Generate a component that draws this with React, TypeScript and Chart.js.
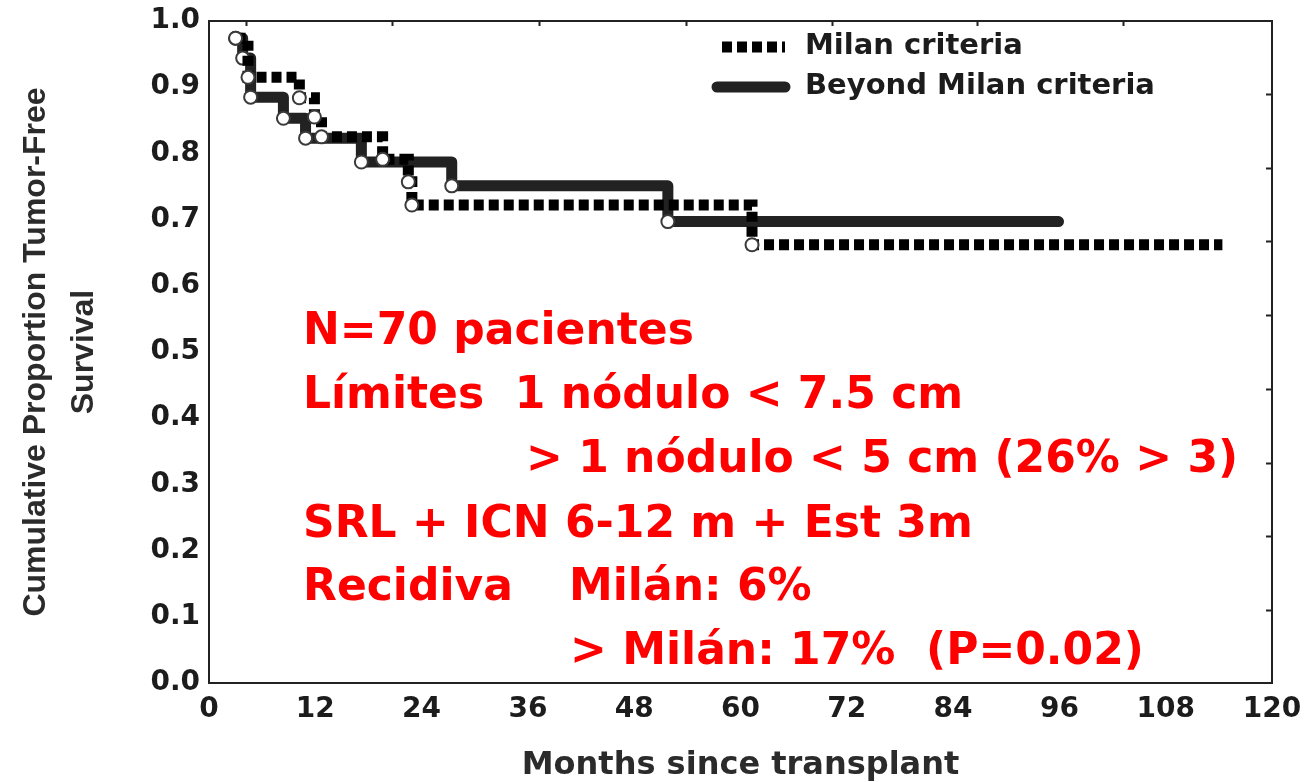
import React, { useEffect, useRef } from "react";
import { Chart, registerables } from "chart.js";

Chart.register(...registerables);

// ---- data ----
const milanMonths = [3.0, 4.4, 10.2, 11.9, 12.7, 19.6, 22.5, 22.9, 61.3, 114.4];
const milanSurvival = [0.974, 0.915, 0.884, 0.855, 0.825, 0.791, 0.757, 0.722, 0.662, 0.662];

const beyondMonths = [3.0, 3.8, 4.7, 8.4, 10.9, 17.2, 27.4, 51.8, 95.9];
const beyondSurvival = [0.974, 0.944, 0.885, 0.853, 0.823, 0.787, 0.751, 0.697, 0.697];

const seriesLabels = ["Milan criteria", "Beyond Milan criteria"];

const xTickStep = 12;
const yTickStep = 0.1;
const topTickMonths = [4.2, 20.7, 37.2, 53.8, 70.3, 86.7, 103.2];
const rightTickValues = [0.111, 0.222, 0.333, 0.444, 0.556, 0.667, 0.778, 0.889];

const xTitle = "Months since transplant";
const yTitle = ["Cumulative Proportion Tumor-Free", "Survival"];

const noteLines = [
  "N=70 pacientes",
  "Límites  1 nódulo < 7.5 cm",
  "> 1 nódulo < 5 cm (26% > 3)",
  "SRL + ICN 6-12 m + Est 3m",
  "Recidiva",
  "Milán: 6%",
  "> Milán: 17%  (P=0.02)",
];

const TICK_FONT = { family: "'DejaVu Sans'", size: 28, weight: "bold" as const };
const INK = "#1c1c1c";

const decorPlugin = {
  id: "decor",
  afterDatasetsDraw(chart: any) {
    const { ctx, chartArea: a, scales } = chart;
    const x = scales.x;
    const y = scales.y;
    ctx.save();
    // frame
    ctx.strokeStyle = "#222";
    ctx.lineWidth = 2;
    ctx.setLineDash([]);
    ctx.strokeRect(a.left, a.top, a.right - a.left, a.bottom - a.top);
    // inside ticks: top and right
    ctx.lineWidth = 2;
    ctx.beginPath();
    topTickMonths.forEach((m) => {
      const px = Math.round(x.getPixelForValue(m)) + 0.5;
      ctx.moveTo(px, a.top);
      ctx.lineTo(px, a.top + 5);
    });
    rightTickValues.forEach((v) => {
      const py = Math.round(y.getPixelForValue(v)) + 0.5;
      ctx.moveTo(a.right, py);
      ctx.lineTo(a.right - 6, py);
    });
    ctx.stroke();

    // legend inside plot (top-right)
    const ds = chart.data.datasets;
    const legendRows = [
      { y: a.top + 26, x0: a.left + 513, x1: a.left + 576 },
      { y: a.top + 66, x0: a.left + 508, x1: a.left + 576 },
    ];
    legendRows.forEach((row, i) => {
      const d = ds[i];
      ctx.strokeStyle = d.borderColor;
      ctx.lineWidth = d.borderWidth;
      ctx.lineCap = d.borderCapStyle;
      ctx.setLineDash(d.borderDash || []);
      ctx.beginPath();
      ctx.moveTo(row.x0, row.y);
      ctx.lineTo(row.x1, row.y);
      ctx.stroke();
      ctx.setLineDash([]);
      ctx.fillStyle = INK;
      ctx.font = "bold 29px 'DejaVu Sans'";
      ctx.textAlign = "left";
      ctx.textBaseline = "middle";
      ctx.fillText(d.label, a.left + 596, row.y - 1);
    });

    // red annotation text
    ctx.fillStyle = "#ff0000";
    ctx.font = "bold 44px 'DejaVu Sans'";
    ctx.textAlign = "left";
    ctx.textBaseline = "alphabetic";
    const notePos = [
      [94, 322.5],
      [94, 386.7],
      [317, 451],
      [94, 515.5],
      [94, 579],
      [360, 579],
      [361, 643],
    ];
    noteLines.forEach((t, i) => {
      ctx.fillText(t, a.left + notePos[i][0], a.top + notePos[i][1]);
    });
    ctx.restore();
  },
};

export default function App() {
  const ref = useRef<HTMLCanvasElement>(null);

  useEffect(() => {
    const canvas = ref.current;
    if (!canvas) return;
    const chart = new Chart(canvas, {
      type: "line",
      data: {
        datasets: [
          {
            label: seriesLabels[0],
            data: milanMonths.map((m, i) => ({ x: m, y: milanSurvival[i] })),
            stepped: true,
            borderColor: "#000000",
            borderWidth: 11,
            borderDash: [10, 5],
            borderCapStyle: "butt",
            borderJoinStyle: "miter",
            pointRadius: milanMonths.map((_, i) => (i === milanMonths.length - 1 ? 0 : 6.5)),
            pointBackgroundColor: "#ffffff",
            pointBorderColor: "#3a3a3a",
            pointBorderWidth: 2,
            fill: false,
          },
          {
            label: seriesLabels[1],
            data: beyondMonths.map((m, i) => ({ x: m, y: beyondSurvival[i] })),
            stepped: true,
            borderColor: "#222222",
            borderWidth: 11,
            borderCapStyle: "round",
            borderJoinStyle: "round",
            pointRadius: beyondMonths.map((_, i) => (i === beyondMonths.length - 1 ? 0 : 6.5)),
            pointBackgroundColor: "#ffffff",
            pointBorderColor: "#3a3a3a",
            pointBorderWidth: 2,
            fill: false,
          },
        ],
      },
      options: {
        responsive: false,
        animation: false,
        devicePixelRatio: 1,
        layout: { padding: { top: 21, right: 33, left: 0, bottom: 0 } },
        plugins: {
          legend: { display: false },
          tooltip: { enabled: false },
        },
        scales: {
          x: {
            type: "linear",
            min: 0,
            max: 120,
            afterFit: (s: any) => {
              s.height = 99;
              s.paddingLeft = 0;
              s.paddingRight = 0;
            },
            ticks: {
              stepSize: xTickStep,
              font: TICK_FONT,
              color: INK,
              padding: 10,
              maxRotation: 0,
              autoSkip: false,
            },
            grid: { display: false, drawTicks: false },
            border: { display: false },
            title: {
              display: true,
              text: xTitle,
              color: "#2b2b2b",
              font: { family: "'DejaVu Sans'", size: 32, weight: "bold", lineHeight: 1.0 },
              padding: { top: 0, bottom: 0 },
            },
          },
          y: {
            min: 0,
            max: 1,
            afterFit: (s: any) => {
              s.width = 209;
              s.paddingTop = 0;
              s.paddingBottom = 0;
            },
            ticks: {
              stepSize: yTickStep,
              font: TICK_FONT,
              color: INK,
              padding: 9,
              callback: (v: any) => Number(v).toFixed(1),
            },
            grid: { display: false, drawTicks: false },
            border: { display: false },
            title: {
              display: true,
              text: yTitle,
              color: "#2b2b2b",
              font: { family: "'Liberation Sans'", size: 32, weight: "bold", lineHeight: 1.5 },
              padding: { top: 12, bottom: 0 },
            },
          },
        },
      },
      plugins: [decorPlugin],
    } as any);
    return () => chart.destroy();
  }, []);

  return (
    <div style={{ position: "fixed", left: 0, top: 0, width: 1305, height: 782, background: "#fff" }}>
      <canvas ref={ref} width={1305} height={782} style={{ display: "block" }} />
    </div>
  );
}
